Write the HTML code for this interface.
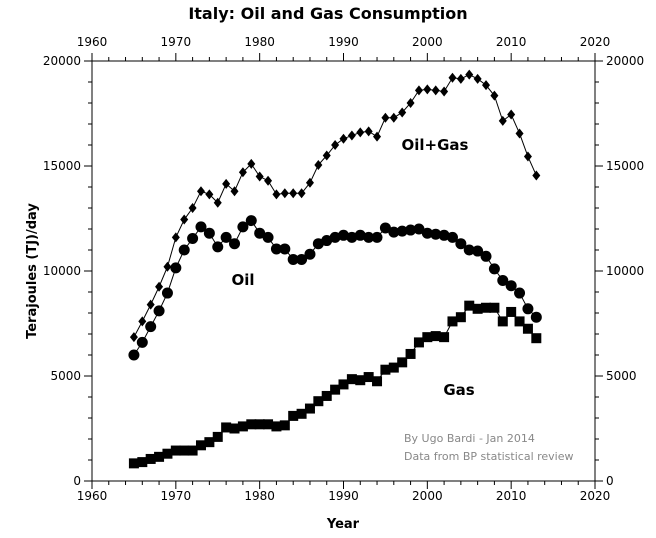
<!DOCTYPE html>
<html><head><meta charset="utf-8"><style>
html,body{margin:0;padding:0;background:#fff;}
svg{display:block;font-family:"DejaVu Sans","Liberation Sans",sans-serif;}
</style></head><body>
<svg id="chart" width="656" height="538">
<text x="328" y="19" text-anchor="middle" font-size="16" font-weight="bold">Italy: Oil and Gas Consumption</text>
<rect x="92" y="61" width="503" height="420" fill="none" stroke="#000" stroke-width="1"/>
<g id="axes"></g>
<g id="series"></g>
<text x="36" y="271" transform="rotate(-90 36 271)" text-anchor="middle" font-size="13" font-weight="bold">Terajoules (TJ)/day</text>
<text x="343" y="528" text-anchor="middle" font-size="13" font-weight="bold">Year</text>
<text x="435" y="150" text-anchor="middle" font-size="15" font-weight="bold">Oil+Gas</text>
<text x="243" y="285" text-anchor="middle" font-size="15" font-weight="bold">Oil</text>
<text x="459" y="395" text-anchor="middle" font-size="15" font-weight="bold">Gas</text>
<text x="404" y="442" font-size="11" fill="#888">By Ugo Bardi - Jan 2014</text>
<text x="404" y="460" font-size="11" fill="#888">Data from BP statistical review</text>
</svg>
<script>
const years=[];for(let y=1965;y<=2013;y++)years.push(y);
const oil=[6000,6600,7350,8100,8950,10150,11000,11550,12100,11800,11150,11600,11300,12100,12400,11800,11600,11050,11050,10550,10550,10800,11300,11450,11600,11700,11600,11700,11600,11600,12050,11850,11900,11950,12000,11800,11750,11700,11600,11300,11000,10950,10700,10100,9550,9300,8950,8200,7800];
const gas=[840,900,1050,1150,1300,1450,1450,1450,1700,1850,2100,2550,2500,2600,2700,2700,2700,2600,2650,3100,3200,3450,3800,4050,4350,4600,4850,4800,4950,4750,5300,5400,5650,6050,6600,6850,6900,6850,7600,7800,8350,8200,8250,8250,7600,8050,7600,7250,6800];
const total=[6850,7600,8400,9250,10200,11600,12450,13000,13800,13650,13250,14150,13800,14700,15100,14500,14300,13650,13700,13700,13700,14200,15050,15500,16000,16300,16450,16600,16650,16400,17300,17300,17550,18000,18600,18650,18600,18550,19200,19150,19350,19150,18850,18350,17150,17450,16550,15450,14550];
const xTicks=[1960,1970,1980,1990,2000,2010,2020];
const yTicks=[0,5000,10000,15000,20000];
const NS="http://www.w3.org/2000/svg";
const L=92,R=595,T=61,B=481;
const X=v=>L+(v-1960)/60*(R-L);
const Y=v=>B-v/20000*(B-T);
function mk(tag,attrs,parent){const e=document.createElementNS(NS,tag);for(const k in attrs)e.setAttribute(k,attrs[k]);parent.appendChild(e);return e;}
const ax=document.getElementById('axes');
for(let yr=1960;yr<=2020;yr+=2){
  const major=yr%10===0, len=major?8:4, x=X(yr);
  const t1=mk('line',{x1:x,x2:x,y1:B,y2:B+len,stroke:'#000'},ax);
  
  
  const t2=mk('line',{x1:x,x2:x,y1:T,y2:T-len,stroke:'#000'},ax);
  
  
}
xTicks.forEach(v=>{
  const a=mk('text',{x:X(v),y:B+19,'text-anchor':'middle','font-size':12},ax);a.textContent=v;
  
  
  const b=mk('text',{x:X(v),y:T-15,'text-anchor':'middle','font-size':12},ax);b.textContent=v;
  
  
});
for(let v=0;v<=20000;v+=1000){
  const major=v%5000===0,len=major?8:4,y=Y(v);
  const t1=mk('line',{x1:L,x2:L-len,y1:y,y2:y,stroke:'#000'},ax);
  
  
  const t2=mk('line',{x1:R,x2:R+len,y1:y,y2:y,stroke:'#000'},ax);
  
  
}
yTicks.forEach(v=>{
  const a=mk('text',{x:L-11,y:Y(v)+4,'text-anchor':'end','font-size':12},ax);a.textContent=v;
  
  
  const b=mk('text',{x:R+11,y:Y(v)+4,'text-anchor':'start','font-size':12},ax);b.textContent=v;
  
  
});
const sg=document.getElementById('series');
function line(vals,name){
  const p=mk('polyline',{points:vals.map((v,i)=>X(years[i])+','+Y(v)).join(' '),fill:'none',stroke:'#000','stroke-width':1},sg);
  
  
}
line(total,'oil-gas-line');line(oil,'oil-line');line(gas,'gas-line');
total.forEach((v,i)=>{const x=X(years[i]),y=Y(v);
  const m=mk('polygon',{points:`${x},${y-5} ${x+4},${y} ${x},${y+5} ${x-4},${y}`,fill:'#000'},sg);
  
  });
oil.forEach((v,i)=>{
  const m=mk('circle',{cx:X(years[i]),cy:Y(v),r:5.5,fill:'#000'},sg);
  
  });
gas.forEach((v,i)=>{
  const m=mk('rect',{x:X(years[i])-5,y:Y(v)-5,width:10,height:10,fill:'#000'},sg);
  
  });
</script>
</body></html>
